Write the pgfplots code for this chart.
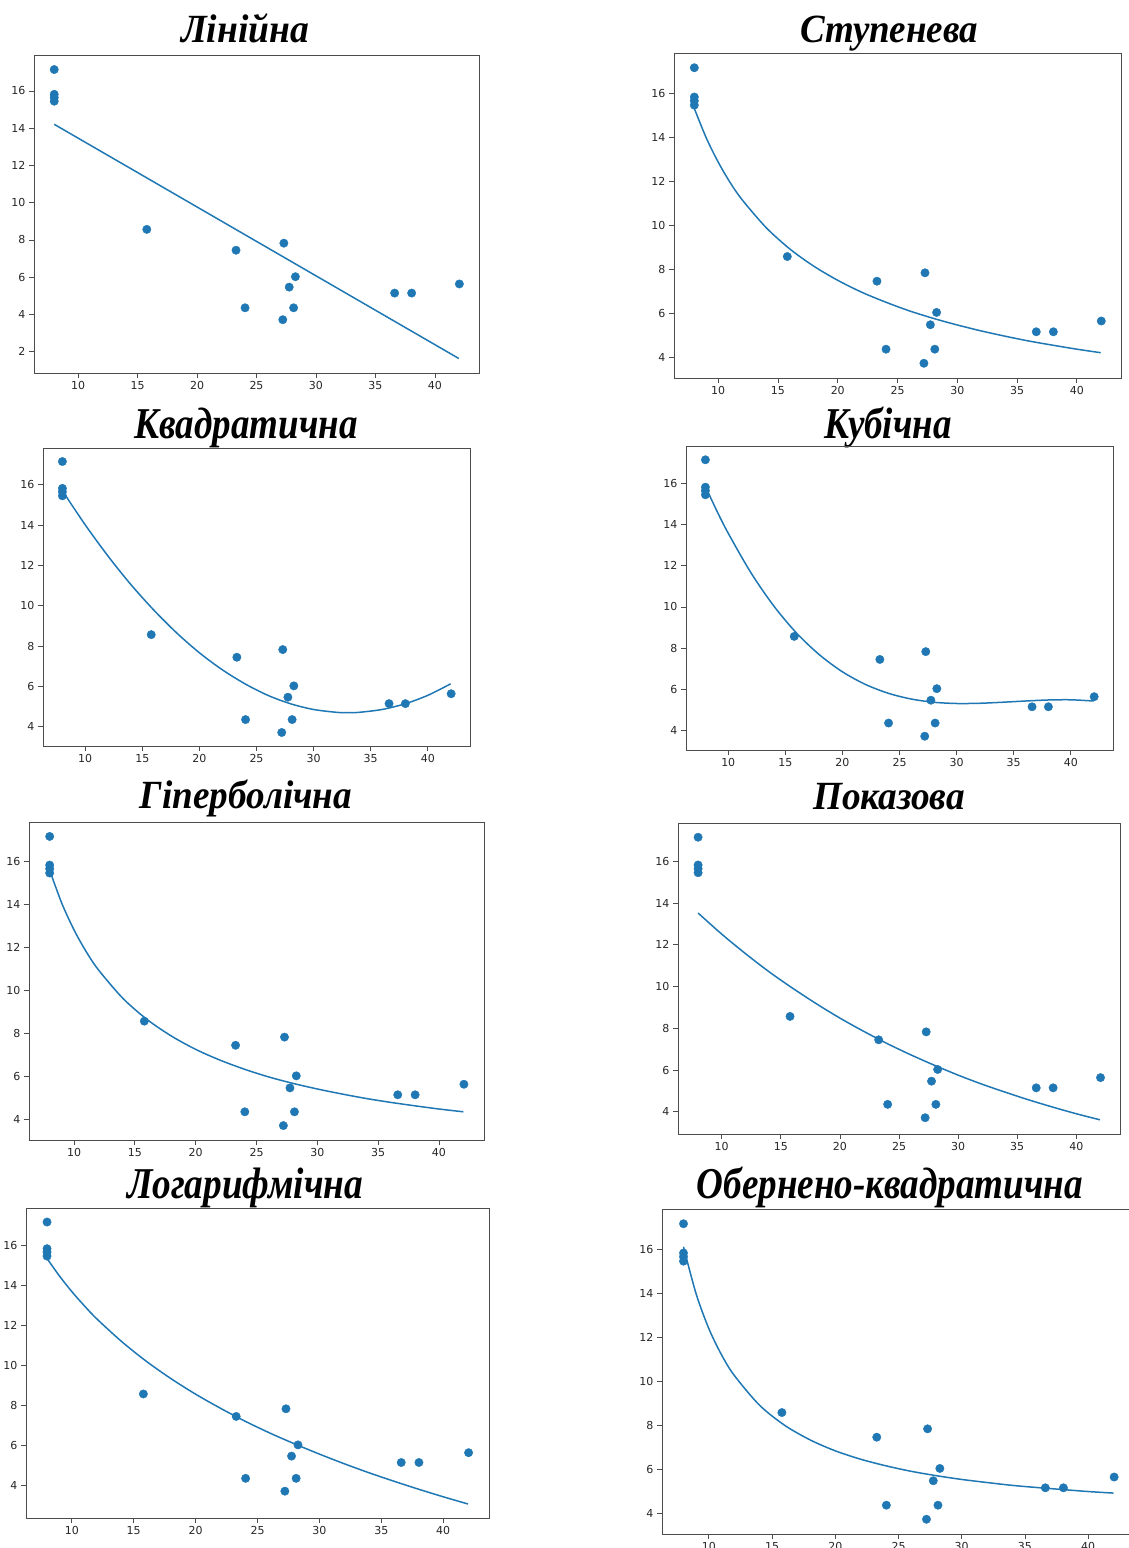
\documentclass[border=0pt]{standalone}
\usepackage{fontspec}
\setmainfont{Liberation Serif}
\newfontfamily\tickfont{DejaVu Sans}
\usepackage{pgfplots}
\usepackage{pgfplotstable}
\pgfplotsset{compat=1.18}
\definecolor{mplblue}{HTML}{1F77B4}

\pgfplotstableread{
x y
8 17.15
8 15.82
8 15.65
8 15.45
15.78 8.57
23.28 7.45
24.04 4.36
27.30 7.83
27.21 3.72
27.75 5.47
28.27 6.03
28.12 4.36
36.61 5.15
38.04 5.15
42.05 5.64
}\pts

\pgfplotsset{
  panel/.style={
    scale only axis, anchor=north west,
    xmin=6.3, xmax=43.7,
    xtick={10,15,...,40}, ytick={2,4,...,16},
    tick align=outside, tick pos=left,
    major tick length=5pt,
    axis line style={black!70, line width=0.9pt},
    every tick/.style={black!70, line width=0.8pt},
    ticklabel style={font=\tickfont\fontsize{11}{12}\selectfont, text=black!85},
    /pgf/number format/assume math mode=true,
  },
  pts/.style={only marks, mark=*, mark size=4.2pt, mplblue, mark options={draw=none, fill=mplblue}},
  fit/.style={mplblue, line width=1.5pt, no marks},
}

\newcommand{\ttl}[5]{\node[anchor=base, inner sep=0pt] at (#1pt,-#2pt) {\resizebox{#3pt}{#4\height}{\fontsize{40}{44}\selectfont\bfseries\itshape #5}};}

\begin{document}
\begin{tikzpicture}
\useasboundingbox (0,0) rectangle (1129pt,-1548pt);
\clip (0,0) rectangle (1129pt,-1548pt);

% Titles
\ttl{245}{42}{128}{1}{Лінійна}
\ttl{889}{42}{178}{1}{Ступенева}
\ttl{246}{438}{223}{1.1}{Квадратична}
\ttl{888}{438}{127}{1.1}{Кубічна}
\ttl{246}{808}{212}{1}{Гіперболічна}
\ttl{889}{809}{152}{1}{Показова}
\ttl{245}{1198}{236}{1.1}{Логарифмічна}
\ttl{890}{1198}{386}{1.1}{Обернено-квадратична}

% 1 Linear
\begin{axis}[panel, at={(34pt,-55pt)}, width=445pt, height=318pt, ymin=0.86, ymax=17.93]
\addplot[pts] table {\pts};
\addplot[fit] coordinates {(8,14.21) (42,1.64)};
\end{axis}

% 2 Power
\begin{axis}[panel, at={(674pt,-53pt)}, width=447pt, height=325pt, ymin=3.05, ymax=17.82]
\addplot[pts] table {\pts};
\addplot[fit, smooth] coordinates {(8,15.30) (9,13.96) (10,12.86) (11,11.93) (12,11.15) (14,9.89) (16,8.91) (18,8.13) (20,7.49) (22,6.95) (24,6.50) (26,6.10) (28,5.76) (30,5.46) (32,5.19) (34,4.95) (36,4.73) (38,4.54) (40,4.36) (42,4.20)};
\end{axis}

% 3 Quadratic
\begin{axis}[panel, at={(43pt,-448pt)}, width=427pt, height=298pt, ymin=3.05, ymax=17.82]
\addplot[pts] table {\pts};
\addplot[fit, smooth] coordinates {(8,15.70) (10,14.01) (12,12.46) (14,11.05) (16,9.79) (18,8.66) (20,7.67) (22,6.83) (24,6.13) (26,5.56) (28,5.14) (30,4.86) (32,4.72) (33,4.70) (34,4.72) (36,4.86) (38,5.14) (40,5.56) (42,6.13)};
\end{axis}

% 4 Cubic
\begin{axis}[panel, at={(686pt,-446pt)}, width=427pt, height=304pt, ymin=3.05, ymax=17.82]
\addplot[pts] table {\pts};
\addplot[fit, smooth] coordinates {(8,15.85) (9,14.67) (10,13.58) (12,11.65) (14,10.04) (16,8.72) (18,7.67) (20,6.85) (22,6.24) (24,5.81) (26,5.53) (28,5.37) (30,5.31) (32,5.32) (34,5.37) (36,5.43) (38,5.48) (40,5.49) (42,5.43)};
\end{axis}

% 5 Hyperbolic
\begin{axis}[panel, at={(29pt,-822pt)}, width=455pt, height=318pt, ymin=3.05, ymax=17.82]
\addplot[pts] table {\pts};
\addplot[fit, smooth] coordinates {(8,15.58) (9,14.04) (10,12.81) (11,11.80) (12,10.96) (14,9.64) (16,8.65) (18,7.88) (20,7.26) (22,6.76) (24,6.34) (26,5.98) (28,5.68) (30,5.42) (32,5.19) (34,4.98) (36,4.80) (38,4.64) (40,4.49) (42,4.36)};
\end{axis}

% 6 Exponential
\begin{axis}[panel, at={(678pt,-823pt)}, width=442pt, height=311pt, ymin=2.94, ymax=17.83]
\addplot[pts] table {\pts};
\addplot[fit, smooth] coordinates {(8,13.52) (10,12.51) (12,11.58) (14,10.71) (16,9.92) (18,9.18) (20,8.49) (22,7.86) (24,7.27) (26,6.73) (28,6.23) (30,5.76) (32,5.33) (34,4.94) (36,4.57) (38,4.23) (40,3.91) (42,3.62)};
\end{axis}

% 7 Logarithmic
\begin{axis}[panel, at={(26pt,-1208pt)}, width=463pt, height=310pt, ymin=2.38, ymax=17.85]
\addplot[pts] table {\pts};
\addplot[fit, smooth] coordinates {(8,15.33) (9,14.46) (10,13.68) (11,12.98) (12,12.33) (14,11.20) (16,10.21) (18,9.34) (20,8.56) (22,7.86) (24,7.21) (26,6.62) (28,6.08) (30,5.57) (32,5.09) (34,4.64) (36,4.22) (38,3.82) (40,3.44) (42,3.08)};
\end{axis}

% 8 Inverse quadratic
\begin{axis}[panel, at={(662pt,-1209pt)}, width=473pt, height=325pt, ymin=3.05, ymax=17.82]
\addplot[pts] table {\pts};
\addplot[fit, smooth] coordinates {(8,16.10) (9,13.96) (10,12.39) (11,11.20) (12,10.27) (14,8.91) (16,7.99) (18,7.33) (20,6.83) (22,6.45) (24,6.15) (26,5.90) (28,5.70) (30,5.53) (32,5.39) (34,5.26) (36,5.16) (38,5.07) (40,4.98) (42,4.91)};
\end{axis}
\end{tikzpicture}
\end{document}
